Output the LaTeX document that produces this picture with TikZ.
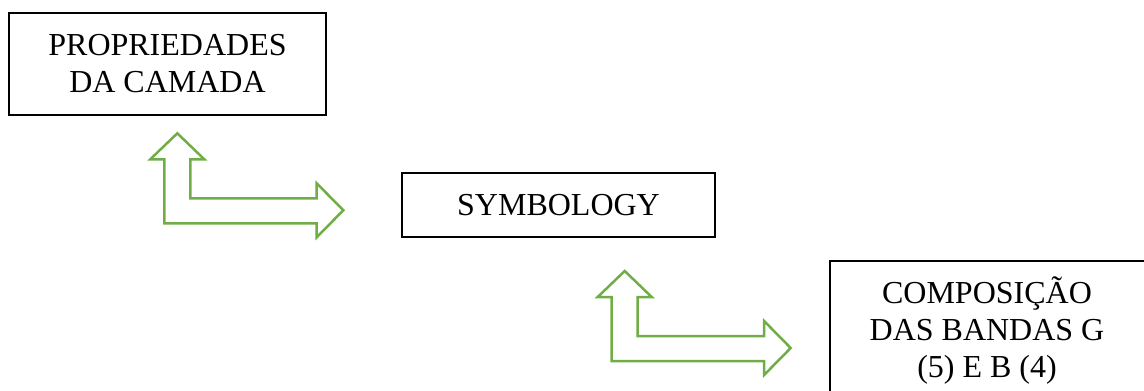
\documentclass[tikz,border=0pt]{standalone}
\usepackage{fontspec}
\setmainfont{Liberation Serif}
\definecolor{arrowgreen}{HTML}{70AD47}
\tikzset{
  x=1pt, y=-1pt,
  box/.style={draw=black, line width=1.5pt, fill=white, inner sep=0pt,
    align=center, font=\fontsize{32}{37}\selectfont},
  blockarrow/.style={draw=arrowgreen, line width=2.5pt, fill=white, line join=miter},
  % bent double block arrow, origin at the outer corner of the elbow
  pics/bentarrow/.style={code={
    \path[blockarrow]
      (0,0) -- (152.4,0) -- (152.4,14) -- (179,-13) -- (152.4,-40)
      -- (152.4,-25) -- (26,-25) -- (26,-64) -- (40,-64) -- (13,-90)
      -- (-14,-64) -- (0,-64) -- cycle;
  }}
}
\begin{document}
\begin{tikzpicture}
  \useasboundingbox (0,0) rectangle (1144,391);
  \clip (0,0) rectangle (1144,391);

  \node[box, minimum width=317pt, minimum height=102pt] (props) at (167.5,64)
    {PROPRIEDADES\\DA CAMADA};
  \node[box, minimum width=313pt, minimum height=64pt] (symb) at (558.5,205)
    {SYMBOLOGY};
  \node[box, minimum width=321pt, minimum height=140pt, anchor=north west] (comp)
    at (829,260) {};
  \node[font=\fontsize{32}{37}\selectfont, align=center, inner sep=0pt] (comptext)
    at (987,331) {COMPOSIÇÃO\\DAS BANDAS G\\(5) E B (4)};

  \coordinate (elbowA) at (164.3,223.3);
  \coordinate (elbowB) at (611.7,361);
  \pic at (elbowA) {bentarrow};
  \pic at (elbowB) {bentarrow};
\end{tikzpicture}
\end{document}
